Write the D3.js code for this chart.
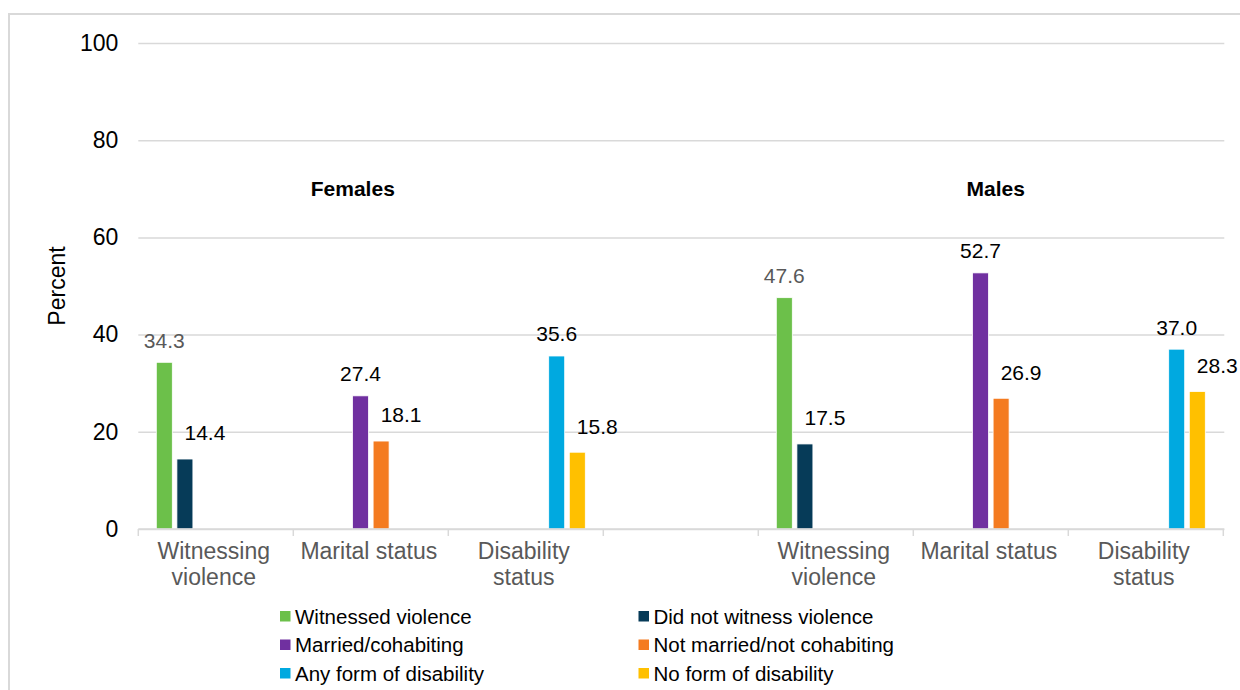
<!DOCTYPE html>
<html>
<head>
<meta charset="utf-8">
<script src="https://cdn.jsdelivr.net/npm/d3@7"></script>
<style>
  html, body { margin: 0; padding: 0; background: #fff; }
  svg { display: block; font-family: "Liberation Sans", Arial, sans-serif; }
</style>
</head>
<body>
<svg id="chart" width="1240" height="690"></svg>
<script>
// Population groups and the indicators shown for each
const groups = ["Females", "Males"];
const indicators = ["Witnessing violence", "Marital status", "Disability status"];
const indicatorLines = [["Witnessing", "violence"], ["Marital status"], ["Disability", "status"]];

// Series (one per response category) and the indicator each belongs to
const seriesNames = [
  "Witnessed violence", "Did not witness violence",
  "Married/cohabiting", "Not married/not cohabiting",
  "Any form of disability", "No form of disability"
];
const seriesIndicator = [0, 0, 1, 1, 2, 2];
const seriesColors = ["#6cc04a", "#063b58", "#7030a0", "#f47b20", "#00a9e0", "#ffc000"];

// Percent values per series
const femaleValues = [34.3, 14.4, 27.4, 18.1, 35.6, 15.8];
const maleValues   = [47.6, 17.5, 52.7, 26.9, 37.0, 28.3];

const yTicks = [0, 20, 40, 60, 80, 100];

const svg = d3.select("#chart");

// outer frame
svg.append("rect")
  .attr("x", 9).attr("y", 14).attr("width", 1260).attr("height", 720)
  .attr("fill", "none").attr("stroke", "#d9d9d9").attr("stroke-width", 2);

const plotLeft = 138.3, plotRight = 1223.3, plotTop = 43, plotBottom = 529;

// slots: three indicators for females, a spacer, three for males
const slots = [];
indicators.forEach((ind, i) => slots.push({ key: "F" + i, group: 0, ind: i }));
slots.push({ key: "gap", group: -1, ind: -1 });
indicators.forEach((ind, i) => slots.push({ key: "M" + i, group: 1, ind: i }));

const x0 = d3.scaleBand().domain(slots.map(d => d.key)).range([plotLeft, plotRight]).padding(0);
const x1 = d3.scaleBand().domain(seriesNames).range([18, x0.bandwidth() - 18]).paddingInner(0.223).paddingOuter(0);
const y = d3.scaleLinear().domain([0, 100]).range([plotBottom, plotTop]);

// gridlines + y tick labels
const yAxis = d3.axisLeft(y).tickValues(yTicks).tickSize(-(plotRight - plotLeft + 1)).tickPadding(20).tickFormat(d3.format("d"));
const gy = svg.append("g").attr("transform", `translate(${plotLeft},0)`).call(yAxis);
gy.select(".domain").remove();
gy.selectAll(".tick line").attr("stroke", "#d9d9d9").attr("stroke-width", 1.5);
gy.selectAll(".tick text").attr("font-size", 23).attr("fill", "#000")
  .attr("font-family", "'Liberation Sans', Arial, sans-serif").attr("x", -20);

// category axis ticks at band boundaries
const boundaries = slots.map(d => x0(d.key)).concat([plotRight]);
svg.append("g").selectAll("line").data(boundaries).join("line")
  .attr("x1", d => d).attr("x2", d => d)
  .attr("y1", plotBottom).attr("y2", plotBottom + 7)
  .attr("stroke", "#d9d9d9").attr("stroke-width", 1.5);

// bars
const barData = [];
slots.forEach(s => {
  if (s.group < 0) return;
  const vals = s.group === 0 ? femaleValues : maleValues;
  seriesNames.forEach((name, si) => {
    if (seriesIndicator[si] !== s.ind) return;
    barData.push({ slot: s.key, series: name, si, value: vals[si], first: si % 2 === 0 });
  });
});

svg.append("g").selectAll("rect").data(barData).join("rect")
  .attr("x", d => x0(d.slot) + x1(d.series))
  .attr("width", x1.bandwidth())
  .attr("y", d => y(d.value))
  .attr("height", d => y(0) - y(d.value))
  .attr("fill", d => seriesColors[d.si])
  .attr("stroke", "#fff").attr("stroke-width", 0.8);

// value labels
svg.append("g").selectAll("text").data(barData).join("text")
  .attr("x", d => x0(d.slot) + x1(d.series) + x1.bandwidth() / 2 + (d.first ? 0 : 20))
  .attr("y", d => y(d.value) - (d.first ? 22 : 26))
  .attr("dy", "0.35em")
  .attr("text-anchor", "middle")
  .attr("font-size", 21)
  .attr("fill", d => d.si === 0 ? "#595959" : "#000")
  .text(d => d3.format(".1f")(d.value));

// x axis baseline
svg.append("line")
  .attr("x1", plotLeft).attr("x2", plotRight + 1).attr("y1", plotBottom).attr("y2", plotBottom)
  .attr("stroke", "#d9d9d9").attr("stroke-width", 1.5);

// category labels
const catG = svg.append("g");
slots.filter(s => s.group >= 0).forEach(s => {
  const cx = x0(s.key) + x0.bandwidth() / 2 - 2;
  const t = catG.append("text")
    .attr("x", cx)
    .attr("y", 559)
    .attr("text-anchor", "middle")
    .attr("font-size", 23)
    .attr("fill", "#595959");
  indicatorLines[s.ind].forEach((line, li) => {
    t.append("tspan").attr("x", cx).attr("dy", li === 0 ? 0 : 26).text(line);
  });
});

// group titles
const groupOffsets = [-18, 5];
groups.forEach((g, gi) => {
  const mid = x0((gi === 0 ? "F" : "M") + "1") + x0.bandwidth() / 2;
  svg.append("text")
    .attr("x", mid + groupOffsets[gi]).attr("y", 196)
    .attr("text-anchor", "middle")
    .attr("font-size", 21).attr("font-weight", "bold").attr("fill", "#000")
    .text(g);
});

// y axis title
svg.append("text")
  .attr("transform", `translate(57,${(plotTop + plotBottom) / 2}) rotate(-90)`)
  .attr("text-anchor", "middle").attr("dy", "0.35em")
  .attr("font-size", 23).attr("fill", "#000")
  .text("Percent");

// legend: two columns, three rows
const legendCols = [280, 638.5];
const legendRows = [616.5, 645, 673.5];
const lg = svg.append("g").selectAll("g").data(seriesNames).join("g")
  .attr("transform", (d, i) => `translate(${legendCols[i % 2]},${legendRows[Math.floor(i / 2)]})`);
lg.append("rect").attr("x", 0).attr("y", -5.5).attr("width", 10.5).attr("height", 10.5)
  .attr("fill", (d, i) => seriesColors[i]);
lg.append("text").attr("x", 15).attr("dy", "0.35em")
  .attr("font-size", 20.5).attr("fill", "#000")
  .text(d => d);
</script>
</body>
</html>
